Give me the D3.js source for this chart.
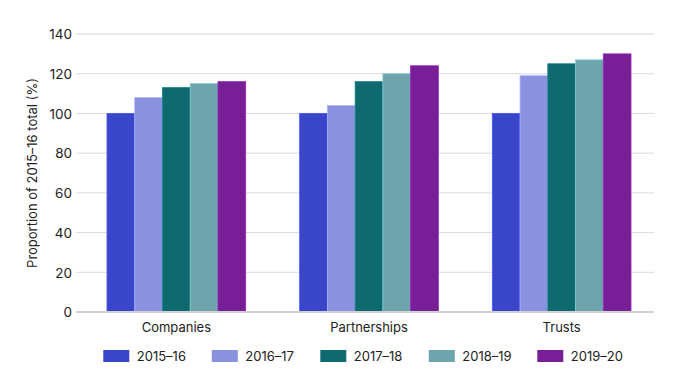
<!DOCTYPE html>
<html><head><meta charset="utf-8">
<script src="https://cdn.jsdelivr.net/npm/d3@7"></script>
<style>body{margin:0;background:#fff}svg{display:block;font-family:Inter,"Noto Sans",sans-serif}</style>
</head><body><svg id="c" width="689" height="385"></svg>
<script>
const categories = ["Companies", "Partnerships", "Trusts"];
const seriesNames = ["2015–16", "2016–17", "2017–18", "2018–19", "2019–20"];
const values2015_16 = [100, 100, 100];
const values2016_17 = [108, 104, 119];
const values2017_18 = [113, 116, 125];
const values2018_19 = [115, 120, 127];
const values2019_20 = [116, 124, 130];
const yTicks = [0, 20, 40, 60, 80, 100, 120, 140];
const colors = ["#3a46c9", "#8a92e0", "#0f6a70", "#6ea5ad", "#781f98"];

const seriesValues = [values2015_16, values2016_17, values2017_18, values2018_19, values2019_20];
const svg = d3.select("#c");
const gridX0 = 76, gridX1 = 654;
const y = d3.scaleLinear().domain([0, 140]).range([312, 34]);
const x0 = d3.scaleBand().domain(categories).range([80, 658]).paddingInner(0).paddingOuter(0);
const groupW = 138.7;
const x1 = d3.scaleBand().domain(seriesNames).range([0, groupW]).padding(0);

// gridlines
svg.append("g").selectAll("line").data(yTicks.filter(t => t > 0)).join("line")
  .attr("x1", gridX0).attr("x2", gridX1)
  .attr("y1", d => y(d)).attr("y2", d => y(d))
  .attr("stroke", d => d === 140 ? "#e4e4e4" : "#dcdcdc")
  .attr("stroke-width", d => d === 140 ? 1.5 : 1);

// y axis labels
const yAxis = d3.axisLeft(y).tickValues(yTicks).tickSize(0).tickPadding(0);
const ya = svg.append("g").attr("transform", `translate(${72},0)`).call(yAxis);
ya.select(".domain").remove();
ya.selectAll("text").attr("font-size", 13.5).attr("fill", "#222").attr("font-family", "Inter,'Noto Sans',sans-serif").attr("dy", "0.35em");

// bars
const groups = svg.append("g").selectAll("g").data(categories).join("g")
  .attr("transform", d => `translate(${x0(d) + (x0.bandwidth() - groupW) / 2},0)`);
groups.selectAll("rect").data((c, i) => seriesNames.map((s, k) => ({s, k, v: seriesValues[k][i]}))).join("rect")
  .attr("x", d => x1(d.s))
  .attr("width", x1.bandwidth())
  .attr("y", d => y(d.v))
  .attr("height", d => y(0) - y(d.v))
  .attr("fill", d => colors[d.k])
  .attr("stroke", d => d3.color(colors[d.k]).brighter(0.6))
  .attr("stroke-width", 0.8);

// zero line
svg.append("line").attr("x1", gridX0).attr("x2", gridX1).attr("y1", y(0)).attr("y2", y(0))
  .attr("stroke", "#d2d2d2").attr("stroke-width", 2);

// x axis labels
const xAxis = d3.axisBottom(x0).tickSize(0).tickPadding(0);
const xa = svg.append("g").attr("transform", `translate(0,${322.5})`).call(xAxis);
xa.select(".domain").remove();
xa.selectAll("text").attr("font-size", 13).attr("fill", "#222").attr("font-family", "Inter,'Noto Sans',sans-serif").attr("dy", "0.71em");

// y title
svg.append("text").attr("transform", `translate(37,${173}) rotate(-90)`)
  .attr("text-anchor", "middle").attr("font-size", 13).attr("fill", "#222")
  .text("Proportion of 2015–16 total (%)");

// legend
const leg = svg.append("g").selectAll("g").data(seriesNames).join("g")
  .attr("transform", (d, i) => `translate(${103.3 + i * 108.5},350)`);
leg.append("rect").attr("width", 26).attr("height", 12).attr("fill", (d, i) => colors[i]);
leg.append("text").attr("x", 33.5).attr("y", 6).attr("dy", "0.35em").attr("font-size", 13).attr("fill", "#222").text(d => d);
</script></body></html>
